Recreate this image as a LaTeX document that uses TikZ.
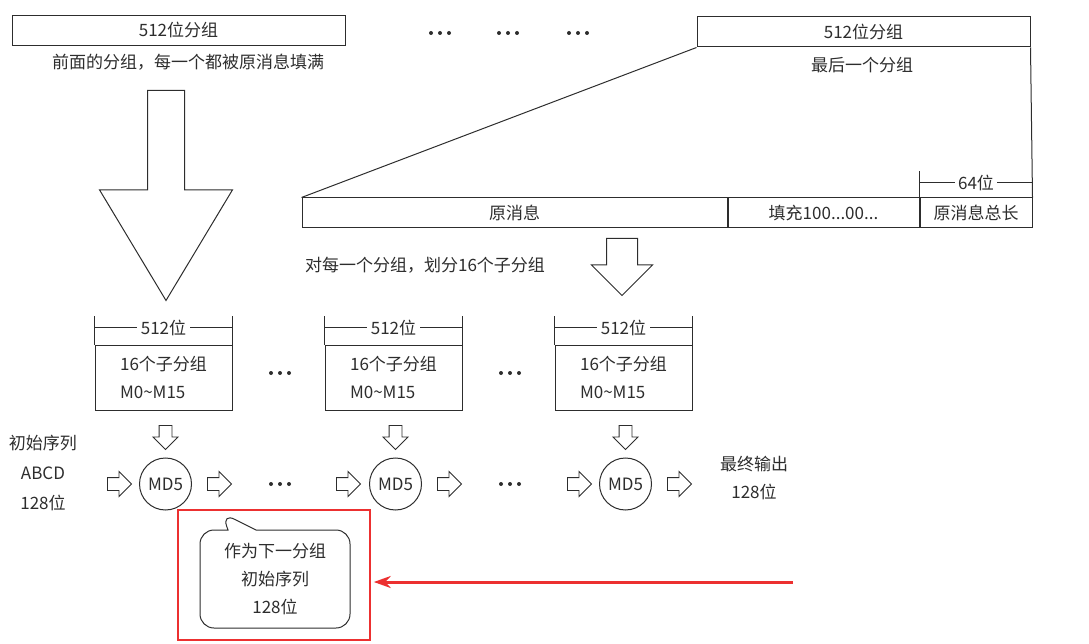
\documentclass[tikz,border=0pt]{standalone}
\usepackage{fontspec}
\setmainfont{Noto Sans CJK SC}
\usepackage{tikz}
\usetikzlibrary{arrows.meta}
\usetikzlibrary{shapes.arrows}
\usetikzlibrary{shapes.callouts}
\usetikzlibrary{positioning}
\definecolor{ink}{RGB}{45,45,45}
\definecolor{hlred}{RGB}{236,48,48}

\begin{document}
\begin{tikzpicture}[x=1pt,y=-1pt, color=ink,
  every node/.style={font=\fontsize{17}{28}\selectfont}]
  \tikzset{cell/.style = {draw, line width=1pt, minimum height=30pt, inner sep=0pt}}
  \tikzset{subbox/.style = {draw, line width=1pt, minimum width=137pt, minimum height=65pt, align=left, inner sep=0pt}}
  \tikzset{md5/.style = {circle, draw, line width=1pt, minimum size=52pt, inner sep=0pt}}
  \tikzset{bigarrow/.style = {single arrow, draw, line width=1pt, inner xsep=0pt, inner ysep=18pt,
      single arrow head extend=48pt, single arrow tip angle=62, minimum height=210pt, rotate=-90, anchor=tail}}
  \tikzset{midarrow/.style = {single arrow, draw, line width=1pt, inner xsep=0pt, inner ysep=15pt,
      single arrow head extend=15pt, minimum height=57pt, rotate=-90, anchor=tail}}
  \tikzset{smallarrow/.style = {single arrow, draw, line width=0.9pt, inner xsep=0pt, inner ysep=6pt,
      single arrow head extend=6pt, minimum height=24pt, anchor=tail}}
  \tikzset{downarrow/.style = {smallarrow, rotate=-90}}
  \tikzset{ellip/.pic = {\foreach \dx in {-9,0,9} \fill (\dx,0) circle (2pt);}}

  \useasboundingbox (0,0) rectangle (1089,644);

  % groups on top
  \node[cell, minimum width=333pt] (g1) at (178.5,30.5) {512位分组};
  \node (first) at (188,62) {前面的分组，每一个都被原消息填满};
  \node[cell, minimum width=333pt] (g2) at (863.5,32) {512位分组};
  \node (last) at (862,65) {最后一个分组};
  \foreach \p in {(440,33),(508,33),(578,33),(280,373),(510,373),(280,484),(510,484)}
    \pic at \p {ellip};

  % last group split up
  \node[cell, minimum width=425pt] (msg) at (514.5,213) {原消息};
  \node[cell, minimum width=191pt, anchor=west] (pad) at (msg.east) {填充100...00...};
  \node[cell, minimum width=112pt, anchor=west] (len) at (pad.east) {原消息总长};
  \draw[line width=1pt] (g2.south west) -- (msg.north west);
  \draw[line width=1pt] (g2.south east) -- (len.north east);
  \draw[line width=1pt] (len.north west) -- ([yshift=26pt]len.north west);
  \draw[line width=1pt] ([yshift=15pt]len.north west) -- node[fill=white, inner sep=3pt]{64位} ([yshift=15pt]len.north east);

  \node[bigarrow] (big) at (166,90) {};
  \node[midarrow] (mid) at (622,238) {};
  \node (split) at (425,265) {对每一个分组，划分16个子分组};

  % sub groups and MD5
  \foreach \i/\x in {1/163.5, 2/393.5, 3/623.5} {
    \node[subbox] (s\i) at (\x,377.5) {16个子分组\\M0\textasciitilde M15};
    \draw[line width=1pt] (s\i.north west) -- ([yshift=29pt]s\i.north west);
    \draw[line width=1pt] (s\i.north east) -- ([yshift=29pt]s\i.north east);
    \draw[line width=1pt] ([yshift=17pt]s\i.north west) -- node[fill=white, inner sep=4pt]{512位} ([yshift=17pt]s\i.north east);
    \node[downarrow] (d\i) at (\x+2,425) {};
    \node[md5] (m\i) at (\x+2,484) {MD5};
  }
  \foreach \x [count=\k] in {107, 207, 336, 437, 567, 667}
    \node[smallarrow] (r\k) at (\x,484) {};

  \node[align=center, font=\fontsize{17}{30}\selectfont] (init) at (43,473) {初始序列\\ABCD\\128位};
  \node[align=center] (out) at (754,478) {最终输出\\128位};

  % next initial value
  \node[rectangle callout, draw, line width=1pt, rounded corners=14pt, minimum width=150pt,
    minimum height=98pt, align=center, callout absolute pointer={(222,513)},
    callout pointer width=28pt] (next) at (275,579) {作为下一分组\\初始序列\\128位};
  \node[draw=hlred, line width=1.6pt, minimum width=192pt, minimum height=130pt] (hl) at (274,575) {};
  \coordinate (tail) at (793,582);
  \draw[-{Stealth[length=17pt,width=12pt]}, draw=hlred, line width=3pt, shorten >=3pt] (tail) -- (hl.east |- tail);
\end{tikzpicture}
\end{document}
